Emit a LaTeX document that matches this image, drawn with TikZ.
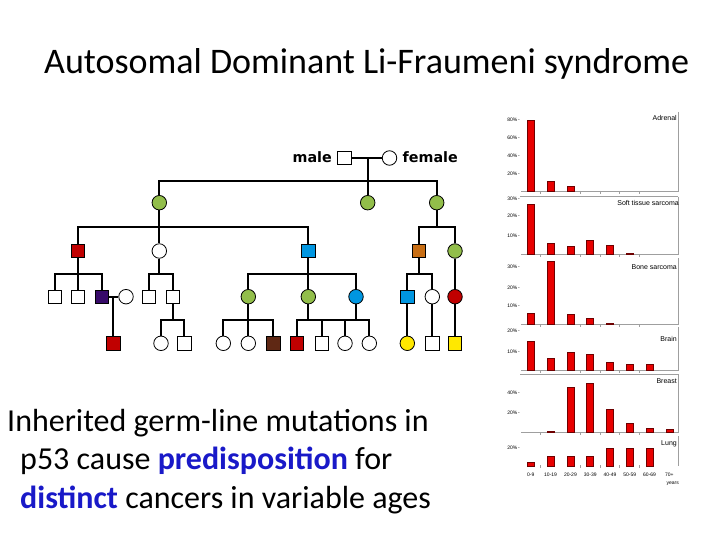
\documentclass[tikz,border=0pt]{standalone}
\usepackage{fontspec}
\setmainfont{Carlito}
\newfontfamily\chartfont{Liberation Sans}
\newfontfamily\pedfont{DejaVu Sans}
\usepackage{tikz}
\usetikzlibrary{calc, positioning}
\definecolor{pgreen}{RGB}{146,190,74}
\definecolor{pred}{RGB}{192,0,0}
\definecolor{pblue}{RGB}{0,150,225}
\definecolor{porange}{RGB}{200,110,20}
\definecolor{ppurple}{RGB}{55,10,105}
\definecolor{pbrown}{RGB}{95,40,20}
\definecolor{pyellow}{RGB}{255,232,0}
\definecolor{barred}{RGB}{232,0,0}
\definecolor{bardark}{RGB}{110,0,0}
\definecolor{txtblue}{RGB}{25,25,200}
\tikzstyle{msq}=[inner sep=0pt, draw, shape=rectangle, minimum size=13.5pt, line width=0.8pt, fill=white]
\tikzstyle{fci}=[inner sep=0pt, draw, shape=circle, minimum size=14.5pt, line width=0.8pt, fill=white]
\tikzstyle{kin}=[line width=1.9pt]
\tikzstyle{bar}=[fill=barred, draw=bardark, line width=0.6pt]
\tikzstyle{frame}=[draw=gray!75, line width=0.8pt]
\tikzstyle{tiny}=[inner sep=0pt, font=\chartfont\fontsize{5}{6}\selectfont]
\tikzstyle{ptitle}=[inner sep=0pt, anchor=base east, font=\chartfont\fontsize{7}{8}\selectfont]
\tikzstyle{sexlbl}=[inner sep=0pt, font=\pedfont\bfseries\fontsize{14.3}{16}\selectfont]

\begin{document}
\begin{tikzpicture}[x=1pt, y=-1pt]
\useasboundingbox (0,0) rectangle (720,540);

\node[anchor=base west, inner sep=0pt, font=\fontsize{36}{42}\selectfont] (title) at (44,74) {Autosomal Dominant Li-Fraumeni syndrome};

% pedigree
\coordinate (s0) at (0,181);
\coordinate (s1) at (0,226.7);
\coordinate (s2) at (0,274);
\coordinate (s3) at (0,320);

\node[msq] (m0) at (344.5,158) {};
\node[fci] (f0) at (389.5,158) {};
\node[sexlbl, anchor=base east] (malelbl) at (332,163) {male};
\node[sexlbl, anchor=base west] (femlbl) at (402.5,163) {female};
\coordinate (mm) at (367.7,158);

\foreach \n/\x/\s/\c in {a1/159.3/fci/pgreen, a2/367.7/fci/pgreen, a3/436.7/fci/pgreen}
\node[\s, fill=\c] (\n) at (\x,202.7) {};
\foreach \n/\x/\s/\c in {b1/77.7/msq/pred, b2/159.3/fci/white, b3/308.3/msq/pblue, b4/419/msq/porange, b5/455/fci/pgreen}
\node[\s, fill=\c] (\n) at (\x,251) {};
\foreach \n/\x/\s/\c in {c1/55/msq/white, c2/77.7/msq/white, c3/101.7/msq/ppurple, c4/126/fci/white, c5/149/msq/white, c6/172.7/msq/white, c7/248.3/fci/pgreen, c8/308.3/fci/pgreen, c9/356/fci/pblue, c10/407.3/msq/pblue, c11/432.3/fci/white, c12/455/fci/pred}
\node[\s, fill=\c] (\n) at (\x,296.7) {};
\foreach \n/\x/\s/\c in {d1/113.3/msq/pred, d2/161/fci/white, d3/184.3/msq/white, d4/223.3/fci/white, d5/248.3/fci/white, d6/273.3/msq/pbrown, d7/296.7/msq/pred, d8/321.7/msq/white, d9/345/fci/white, d10/369.3/fci/white, d11/407.3/fci/pyellow, d12/432.3/msq/white, d13/455/msq/pyellow}
\node[\s, fill=\c] (\n) at (\x,343.3) {};

\draw[kin] (m0) -- (f0);
\draw[kin] (c3) -- (c4);
\coordinate (mc) at (113.3,296.7);
\draw[kin] (mc) -- (d1);
\foreach \p/\c/\s in {mm/a1/s0, mm/a2/s0, mm/a3/s0,
  a1/b1/s1, a1/b2/s1, a1/b3/s1, a3/b4/s1, a3/b5/s1,
  b1/c1/s2, b1/c2/s2, b1/c3/s2, b2/c5/s2, b2/c6/s2, b3/c7/s2, b3/c8/s2, b3/c9/s2, b4/c10/s2, b4/c11/s2, b5/c12/s2,
  c6/d2/s3, c6/d3/s3, c7/d4/s3, c7/d5/s3, c7/d6/s3, c8/d7/s3, c8/d8/s3, c8/d9/s3, c8/d10/s3, c10/d11/s3, c11/d12/s3, c12/d13/s3}
\draw[kin] (\p) -- (\p |- \s) -| (\c);
\draw[kin] (c9) -- (c9 |- s3);

% text
\node[anchor=base west, inner sep=0pt, font=\fontsize{32}{38}\selectfont] (txt1) at (7,431) {Inherited germ-line mutations in};
\node[anchor=base west, inner sep=0pt, font=\fontsize{32}{38}\selectfont] (txt2) at (20,469.5) {p53 cause \textbf{\textcolor{txtblue}{predisposition}} for};
\node[anchor=base west, inner sep=0pt, font=\fontsize{32}{38}\selectfont] (txt3) at (20,508) {\textbf{\textcolor{txtblue}{distinct}} cancers in variable ages};

% charts
\foreach \t/\b in {112/191, 196.7/254, 258/324.3, 327/370, 374.3/432}
{
\draw[frame] (678.3,\t) -- (678.3,\b) -- (521,\b);
\foreach \j in {0,2,3,4,5}
\draw[frame] ({540.5+19.8*\j},\b) -- ({540.5+19.8*\j},\b+3);
}
\draw[frame] (678.3,436) -- (678.3,466);
\draw[frame] (520,196.7) -- (678.3,196.7);
\draw[frame] (520,374.3) -- (678.3,374.3);
\foreach \j in {0,2,3,4,5}
\draw[frame] ({540.5+19.8*\j},465) -- ({540.5+19.8*\j},468);

\foreach \i/\h in {0/120, 1/181.3, 2/186}
\draw[bar] ({530.8+19.8*\i-3.5},191) rectangle ({530.8+19.8*\i+3.5},\h);
\foreach \i/\h in {0/204, 1/243, 2/246.3, 3/240, 4/245, 5/253}
\draw[bar] ({530.8+19.8*\i-3.5},254) rectangle ({530.8+19.8*\i+3.5},\h);
\foreach \i/\h in {0/313, 1/261, 2/314.3, 3/318, 4/323}
\draw[bar] ({530.8+19.8*\i-3.5},324.3) rectangle ({530.8+19.8*\i+3.5},\h);
\foreach \i/\h in {0/341, 1/358.3, 2/352.3, 3/354, 4/362, 5/364.3, 6/364}
\draw[bar] ({530.8+19.8*\i-3.5},370) rectangle ({530.8+19.8*\i+3.5},\h);
\foreach \i/\h in {1/431, 2/387, 3/383, 4/409.3, 5/423, 6/428.3, 7/429}
\draw[bar] ({530.8+19.8*\i-3.5},432) rectangle ({530.8+19.8*\i+3.5},\h);
\foreach \i/\h in {0/462, 1/456.7, 2/456.7, 3/456.7, 4/448, 5/448, 6/448}
\draw[bar] ({530.8+19.8*\i-3.5},466) rectangle ({530.8+19.8*\i+3.5},\h);

\foreach \y/\l [count=\k] in {120/80, 138/60, 156/40, 174/20, 198.3/30, 216/20, 236/10, 266.7/30, 287.3/20, 305.7/10, 331/20, 351.7/10, 393/40, 413/20, 447.3/20}
\node[tiny, anchor=east] (ylbl\k) at (520,\y) {\l\%\,-};

\node[ptitle] (adrenal) at (677,121) {Adrenal};
\node[ptitle] (soft) at (679,206) {Soft tissue sarcoma};
\node[ptitle] (bone) at (677,269) {Bone sarcoma};
\node[ptitle] (brain) at (677,341) {Brain};
\node[ptitle] (breast) at (677,383) {Breast};
\node[ptitle] (lung) at (677,445) {Lung};

\foreach \l [count=\k from 0] in {0-9, 10-19, 20-29, 30-39, 40-49, 50-59, 60-69, 70+}
\node[tiny] (xlbl\k) at ({530.8+19.8*\k},474.3) {\l};
\node[tiny] (years) at (672.7,483.7) {years};
\end{tikzpicture}
\end{document}
